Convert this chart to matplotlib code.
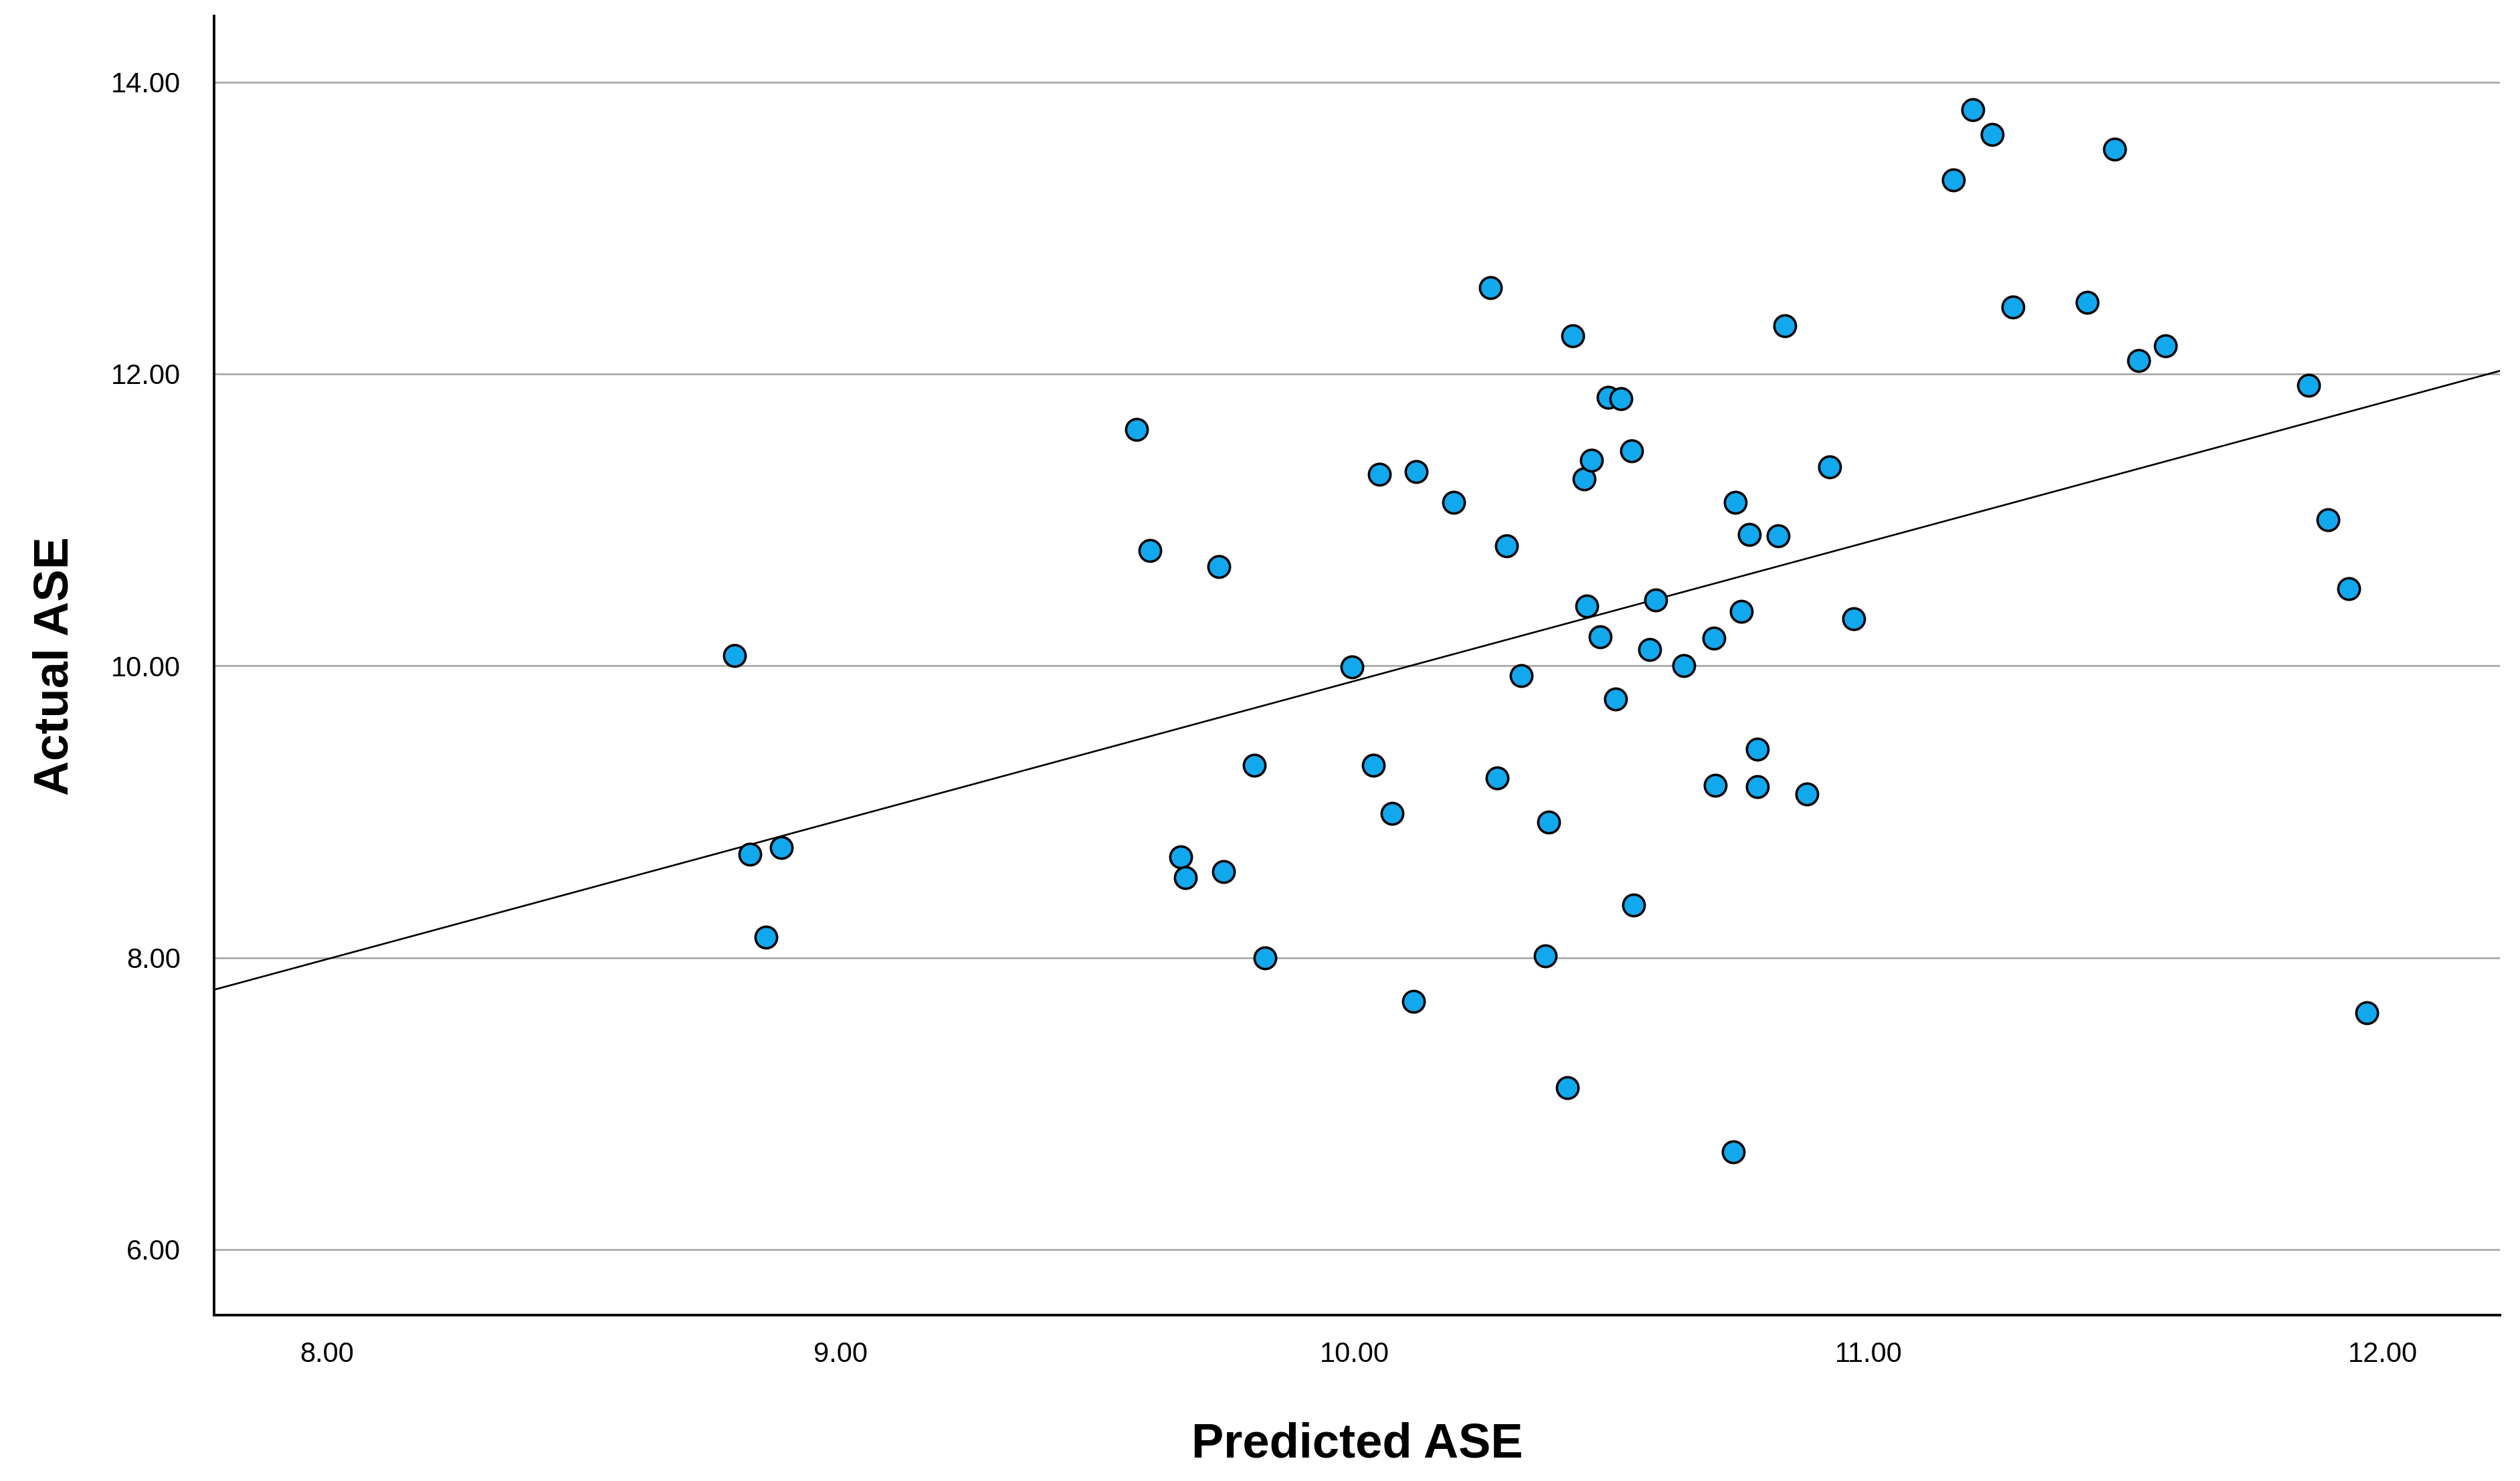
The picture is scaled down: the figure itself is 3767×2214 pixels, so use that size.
import numpy as np
import matplotlib
matplotlib.use("Agg")
import matplotlib.pyplot as plt

plt.rcParams['font.family'] = ['Liberation Sans', 'DejaVu Sans']

# values
predicted = [8.794, 8.823, 8.885, 8.854, 9.576, 9.601, 9.736, 9.661, 9.670, 9.745,
             9.805, 9.826, 9.995, 10.036, 10.048, 10.073, 10.120, 10.114, 10.192, 10.264,
             10.277, 10.296, 10.324, 10.377, 10.371, 10.414, 10.424, 10.446, 10.452, 10.461,
             10.477, 10.493, 10.518, 10.508, 10.539, 10.543, 10.574, 10.586, 10.640, 10.699,
             10.702, 10.740, 10.752, 10.768, 10.737, 10.783, 10.783, 10.824, 10.837, 10.880,
             10.924, 10.971, 11.165, 11.202, 11.240, 11.281, 11.425, 11.478, 11.525, 11.578,
             11.856, 11.894, 11.934, 11.969]
actual = [10.07, 8.71, 8.755, 8.14, 11.62, 10.79, 10.68, 8.69, 8.55, 8.59,
          9.32, 8.00, 9.99, 9.32, 11.31, 8.99, 11.33, 7.70, 11.12, 12.59,
          9.23, 10.82, 9.93, 8.93, 8.01, 7.11, 12.26, 11.28, 10.41, 11.41,
          10.20, 11.84, 11.83, 9.77, 11.47, 8.36, 10.11, 10.45, 10.00, 10.19,
          9.18, 11.12, 10.37, 10.90, 6.67, 9.43, 9.17, 10.89, 12.33, 9.12,
          11.36, 10.32, 13.33, 13.81, 13.64, 12.46, 12.49, 13.54, 12.09, 12.19,
          11.92, 11.00, 10.53, 7.62]

x_ticks = [8.0, 9.0, 10.0, 11.0, 12.0]
y_ticks = [6.0, 8.0, 10.0, 12.0, 14.0]

x = np.array(predicted)
y = np.array(actual)

fig = plt.figure(figsize=(37.67, 22.14), dpi=100)
ax = fig.add_axes([0.085, 0.112, 0.907, 0.877])

ax.set_xlim(7.781, 12.228)
ax.set_ylim(5.55, 14.45)

for t in y_ticks:
    ax.axhline(t, color='#a6a6a6', lw=1.9, zorder=1)

# fit line at total
slope, intercept = np.polyfit(x, y, 1)
xl = np.array(ax.get_xlim())
ax.plot(xl, intercept + slope * xl, color='black', lw=1.9, zorder=2)

ax.scatter(x, y, s=540, c='#12a8ee', edgecolors='black', linewidths=2.6, zorder=3)

ax.set_xticks(x_ticks)
ax.set_yticks(y_ticks)
ax.set_xticklabels(['%.2f' % v for v in x_ticks])
ax.set_yticklabels(['%.2f' % v for v in y_ticks])
ax.tick_params(length=0, labelsize=30, colors='black')
ax.tick_params(axis='y', pad=36)
ax.tick_params(axis='x', pad=28)

for s in ['top', 'right']:
    ax.spines[s].set_visible(False)
for s in ['left', 'bottom']:
    ax.spines[s].set_linewidth(2.8)
    ax.spines[s].set_color('black')

ax.set_xlabel('Predicted ASE', fontsize=52, fontweight='bold', labelpad=58)
ax.set_ylabel('Actual ASE', fontsize=52, fontweight='bold', labelpad=36)

fig.savefig('out.png', dpi=100)
